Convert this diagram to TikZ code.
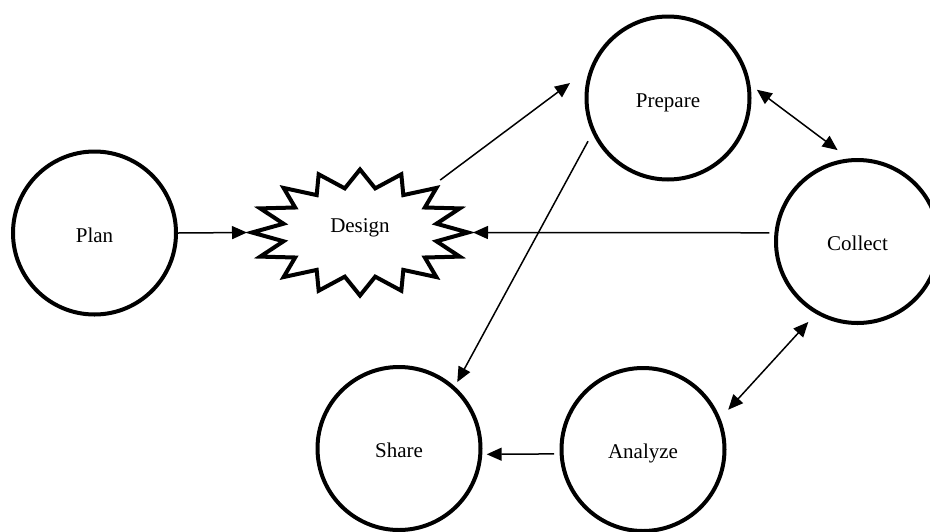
\documentclass[tikz,border=0pt]{standalone}
\usepackage{fontspec}
\setmainfont{Liberation Serif}
\usetikzlibrary{arrows.meta,shapes.geometric}
\begin{document}
\begin{tikzpicture}[x=1pt,y=-1pt,
  stage/.style={circle,draw,line width=4pt,minimum size=163pt,inner sep=0pt,text height=18.6pt,text depth=0pt,font=\fontsize{21}{25}\selectfont},
  burst/.style={line width=4pt,fill=white,miter limit=20,line join=miter},
  burstarea/.style={ellipse,minimum width=226pt,minimum height=134pt,inner sep=0pt,outer sep=0pt},
  link/.style={line width=1.5pt,-{Triangle[length=15pt,width=13pt]}},
  dlink/.style={line width=1.5pt,{Triangle[length=15pt,width=13pt]}-{Triangle[length=15pt,width=13pt]}}]
\useasboundingbox (0,0) rectangle (930,531);
\node[stage] (plan) at (94.5,233) {Plan};
\node[stage] (prepare) at (668,98) {Prepare};
\node[stage] (collect) at (857.5,241.5) {Collect};
\node[stage] (share) at (399,448.5) {Share};
\node[stage] (analyze) at (643,449.5) {Analyze};
\draw[burst] plot[samples at={0,...,31}] ({360+cos(\x*11.25)*(108-30*mod(\x,2))},{232.5+sin(\x*11.25)*(63-18*mod(\x,2))}) -- cycle;
\node[burstarea,label={[font=\fontsize{21}{25}\selectfont,yshift=5pt]center:Design}] (design) at (360,232.5) {};
\draw[link] (plan.east) -- (design.west);
\draw[link,shorten <=5pt,shorten >=25pt] (design.33) -- (prepare.159);
\draw[link,shorten <=9pt,shorten >=5pt] (prepare.205) -- (share.48);
\draw[link,shorten <=5pt] (collect.174) -- (design.east);
\draw[dlink,shorten <=8pt,shorten >=14pt] (prepare.9) -- (collect.96);
\draw[dlink,shorten <=11pt,shorten >=11.5pt] (collect.240) -- (analyze.22);
\draw[link,shorten <=5.6pt,shorten >=4.4pt] (analyze.183) -- (share.-4);
\end{tikzpicture}
\end{document}
